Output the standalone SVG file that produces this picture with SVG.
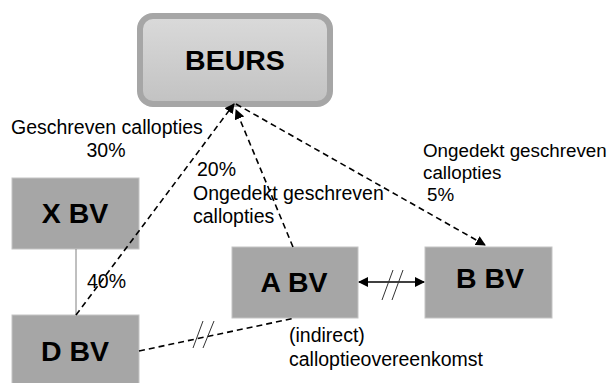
<svg xmlns="http://www.w3.org/2000/svg" width="611" height="383" viewBox="0 0 611 383">
<style>
.box{fill:#a6a6a6;stroke:#c4c4c4;stroke-width:1}
.t{font-family:"Liberation Sans",Arial,sans-serif;font-size:28.5px;font-weight:bold;fill:#000;text-anchor:middle}
.l{font-family:"Liberation Sans",Arial,sans-serif;font-size:19.5px;fill:#000}
.r{font-size:18.8px}
.d{fill:none;stroke:#000;stroke-width:1.6;stroke-dasharray:6 4}
.s{fill:none;stroke:#000;stroke-width:1.6}
.h{fill:none;stroke:#333;stroke-width:1}
</style>
<defs>
<linearGradient id="g" x1="0" y1="0" x2="0" y2="1">
<stop offset="0" stop-color="#dadada"/>
<stop offset="1" stop-color="#c2c2c2"/>
</linearGradient>
<marker id="a" viewBox="0 0 10 10" refX="9" refY="5" markerWidth="10" markerHeight="10" markerUnits="userSpaceOnUse" orient="auto-start-reverse">
<path d="M0,0 L10,5 L0,10 Z" fill="#000"/>
</marker>
</defs>
<g id="beurs">
<rect x="140" y="16" width="190" height="88" rx="13" fill="url(#g)" stroke="#a6a6a6" stroke-width="6"/>
<text class="t" x="235" y="70">BEURS</text>
</g>
<g id="xbv">
<rect class="box" x="12" y="178" width="127" height="71"/>
<text class="t" x="75" y="223">X BV</text>
</g>
<g id="dbv">
<rect class="box" x="12" y="315" width="127" height="72"/>
<text class="t" x="75" y="361">D BV</text>
</g>
<g id="abv">
<rect class="box" x="232" y="247" width="126" height="71"/>
<text class="t" x="294" y="292">A BV</text>
</g>
<g id="bbv">
<rect class="box" x="425" y="247" width="127" height="71"/>
<text class="t" x="490" y="288">B BV</text>
</g>
<g id="connectors">
<line x1="76" y1="249" x2="76" y2="315" stroke="#808080" stroke-width="1"/>
<line class="d" x1="76" y1="315" x2="234" y2="104" marker-end="url(#a)"/>
<line class="d" x1="293" y1="247" x2="236" y2="110" marker-end="url(#a)"/>
<line class="d" x1="236" y1="104" x2="485" y2="245" marker-end="url(#a)"/>
<line class="s" x1="359" y1="282" x2="424" y2="282" marker-start="url(#a)" marker-end="url(#a)"/>
<line class="h" x1="382" y1="300" x2="393" y2="270"/>
<line class="h" x1="392" y1="300" x2="403" y2="270"/>
<line class="d" x1="139" y1="351" x2="295" y2="318"/>
<line class="h" x1="193" y1="348" x2="203" y2="321"/>
<line class="h" x1="203" y1="348" x2="214" y2="321"/>
</g>
<g id="labels">
<text class="l" x="11" y="134">Geschreven callopties</text>
<text class="l" x="106" y="157" text-anchor="middle">30%</text>
<text class="l" x="197" y="176">20%</text>
<text class="l" x="193" y="200">Ongedekt geschreven</text>
<text class="l" x="193" y="223">callopties</text>
<text class="l r" x="423" y="157">Ongedekt geschreven</text>
<text class="l r" x="423" y="179">callopties</text>
<text class="l r" x="427" y="201">5%</text>
<text class="l" x="87" y="288">40%</text>
<text class="l" x="289" y="342">(indirect)</text>
<text class="l" x="289" y="366">calloptieovereenkomst</text>
</g>
</svg>
